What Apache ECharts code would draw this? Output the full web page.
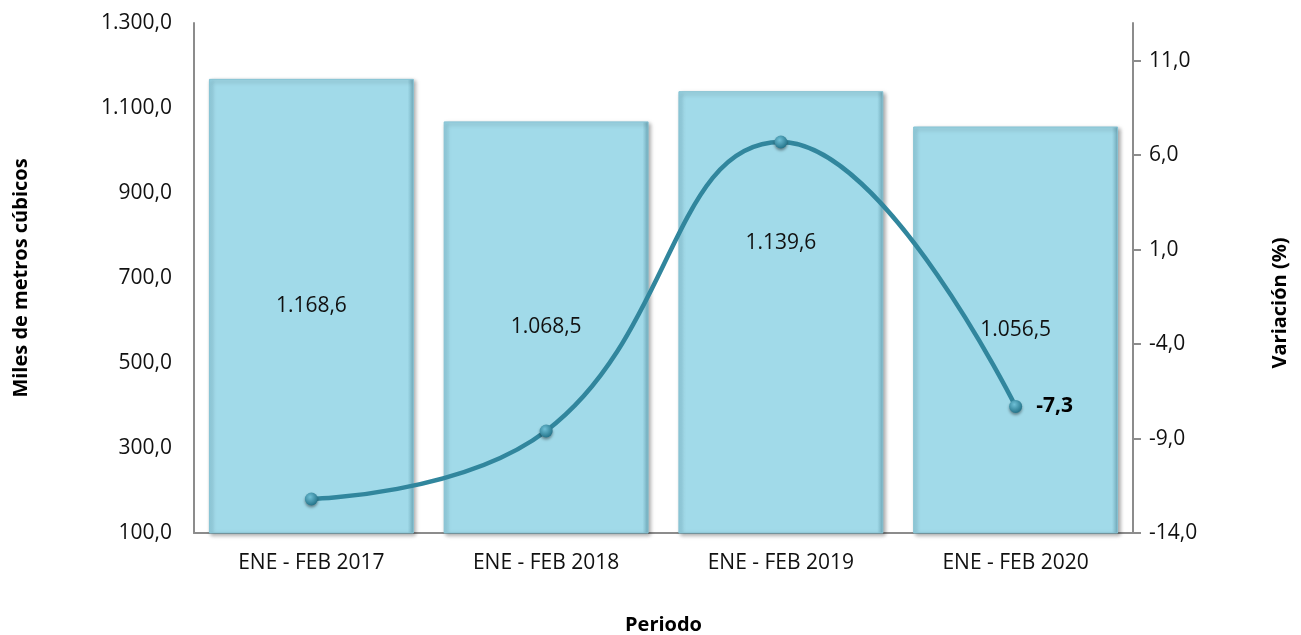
<!DOCTYPE html>
<html>
<head>
<meta charset="utf-8">
<script src="https://cdn.jsdelivr.net/npm/echarts@6/dist/echarts.min.js"></script>
<style>
html,body{margin:0;padding:0;background:#fff;}
#c{width:1301px;height:635px;}
</style>
</head>
<body>
<div id="c"></div>
<script>
const categories = ['ENE - FEB 2017', 'ENE - FEB 2018', 'ENE - FEB 2019', 'ENE - FEB 2020'];
const volumeValues = [1168.6, 1068.5, 1139.6, 1056.5];
const variationValues = [-12.2, -8.6, 6.7, -7.3];
const leftTicks = [100, 300, 500, 700, 900, 1100, 1300];
const rightTicks = [-14, -9, -4, 1, 6, 11];

function fmt(v) {
  const neg = v < 0;
  let s = Math.abs(v).toFixed(1);
  let [i, d] = s.split('.');
  i = i.replace(/\B(?=(\d{3})+(?!\d))/g, '.');
  return (neg ? '-' : '') + i + ',' + d;
}

const FONT = 'Open Sans';
const TXT = '#111';
const FS = 21;
const chart = echarts.init(document.getElementById('c'));

const barData = volumeValues.map((v, i) => {
  const item = { value: v };
  if (i === 2) item.label = { offset: [0, -69] };
  return item;
});
const lineData = variationValues.map((v, i) => {
  const item = { value: v };
  if (i === variationValues.length - 1) {
    item.label = { show: true, position: 'right', distance: 14, fontWeight: 'bold', fontSize: 21, color: '#000', fontFamily: FONT, formatter: p => fmt(p.value) };
  }
  return item;
});

chart.setOption({
  animation: false,
  grid: { left: 194, right: 168, top: 23, bottom: 102, containLabel: false, outerBoundsMode: 'none' },
  graphic: [
    {
      type: 'text',
      rotation: Math.PI / 2,
      x: 1280, y: 303,
      style: { text: 'Variación (%)', fontFamily: FONT, fontSize: 20, fontWeight: 'bold', fill: '#000', textAlign: 'center', textVerticalAlign: 'middle' }
    }
  ],
  xAxis: {
    type: 'category',
    data: categories,
    axisLine: { onZero: false, lineStyle: { color: '#8c8c8c', width: 2 } },
    axisTick: { show: false },
    axisLabel: { fontFamily: FONT, fontSize: FS, color: TXT, margin: 20 },
    name: 'Periodo',
    nameLocation: 'middle',
    nameGap: 82,
    nameTextStyle: { fontFamily: FONT, fontSize: 20, fontWeight: 'bold', color: '#000' }
  },
  yAxis: [
    {
      type: 'value',
      min: leftTicks[0],
      max: leftTicks[leftTicks.length - 1],
      interval: leftTicks[1] - leftTicks[0],
      splitLine: { show: false },
      axisLine: { show: true, lineStyle: { color: '#8c8c8c', width: 2 } },
      axisTick: { show: false },
      axisLabel: { fontFamily: FONT, fontSize: FS, color: TXT, margin: 22, formatter: v => fmt(v) },
      name: 'Miles de metros cúbicos',
      nameLocation: 'middle',
      nameGap: 163,
      nameRotate: 90,
      nameTextStyle: { fontFamily: FONT, fontSize: 20, fontWeight: 'bold', color: '#000' }
    },
    {
      type: 'value',
      min: -14,
      max: 13,
      interval: 5,
      splitLine: { show: false },
      axisLine: { show: true, lineStyle: { color: '#8c8c8c', width: 2 } },
      axisTick: { show: true, length: 8, customValues: rightTicks, lineStyle: { color: '#8c8c8c', width: 2 } },
      axisLabel: { fontFamily: FONT, fontSize: FS, color: TXT, margin: 16, customValues: rightTicks, formatter: v => fmt(v) }
    }
  ],
  series: [
    {
      type: 'bar',
      data: barData,
      barCategoryGap: '12.7%',
      itemStyle: {
        color: new echarts.graphic.LinearGradient(0, 0, 1, 0, [
          { offset: 0, color: '#93d0e1' },
          { offset: 0.03, color: '#a1dae9' },
          { offset: 0.97, color: '#a1dae9' },
          { offset: 1, color: '#6fa9b9' }
        ]),
        borderColor: '#86c3d4',
        borderWidth: 1,
        shadowColor: 'rgba(0,0,0,0.35)',
        shadowBlur: 4,
        shadowOffsetX: 2,
        shadowOffsetY: 2
      },
      label: {
        show: true,
        position: 'inside',
        fontFamily: FONT,
        fontSize: FS,
        color: TXT,
        formatter: p => fmt(p.value)
      }
    },
    {
      type: 'line',
      yAxisIndex: 1,
      data: lineData,
      smooth: 0.45,
      symbol: 'circle',
      symbolSize: 13,
      lineStyle: { color: '#31869d', width: 4.5 },
      itemStyle: {
        color: new echarts.graphic.RadialGradient(0.4, 0.35, 0.7, [
          { offset: 0, color: '#6fc0d6' },
          { offset: 1, color: '#1f6f85' }
        ]),
        shadowColor: 'rgba(0,0,0,0.4)',
        shadowBlur: 3,
        shadowOffsetY: 2
      },
      label: { show: false },
      z: 5
    }
  ]
});
</script>
</body>
</html>
